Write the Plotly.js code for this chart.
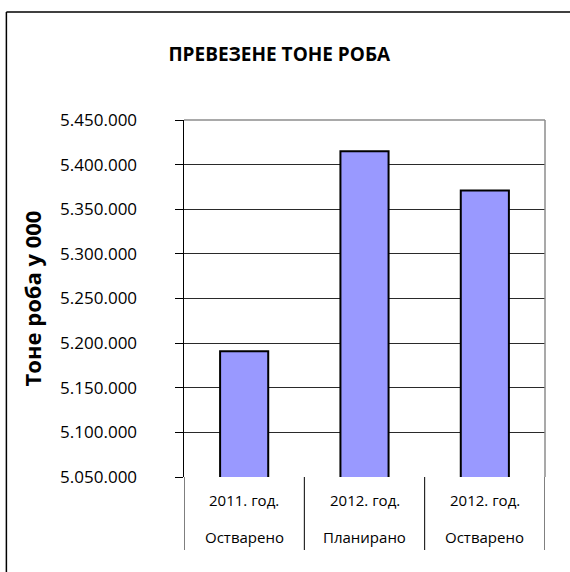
<!DOCTYPE html>
<html>
<head>
<meta charset="utf-8">
<script src="https://cdn.plot.ly/plotly-3.0.1.min.js"></script>
<style>html,body{margin:0;padding:0;background:#fff;}#chart{width:570px;height:572px;}</style>
</head>
<body>
<div id="chart"></div>
<script>
var chartTitle = "ПРЕВЕЗЕНЕ ТОНЕ РОБА";
var yTitle = "Тоне роба у 000";
var yearLabels = ["2011. год.", "2012. год.", "2012. год."];
var statusLabels = ["Остварено", "Планирано", "Остварено"];
var values = [5191000, 5415000, 5371000];
var yTicks = [5050000, 5100000, 5150000, 5200000, 5250000, 5300000, 5350000, 5400000, 5450000];

var idx = values.map(function (v, i) { return i; });

var trace = {
  type: "bar",
  x: idx,
  y: values,
  width: 0.4,
  marker: { color: "#9999FF", line: { color: "#000000", width: 2 } },
  hoverinfo: "skip"
};

var annotations = [];
var shapes = [];
idx.forEach(function (i) {
  annotations.push({ x: i, xref: "x", y: -0.065, yref: "paper", text: yearLabels[i], showarrow: false,
    font: { family: "Open Sans, sans-serif", size: 15, color: "#000" }, xanchor: "center", yanchor: "middle" });
  annotations.push({ x: i, xref: "x", y: -0.168, yref: "paper", text: statusLabels[i], showarrow: false,
    font: { family: "Open Sans, sans-serif", size: 15, color: "#000" }, xanchor: "center", yanchor: "middle" });
});
for (var k = 0; k <= idx.length; k++) {
  shapes.push({ type: "line", xref: "x", yref: "paper", x0: k - 0.5, x1: k - 0.5, y0: 0, y1: -0.2045,
    line: { color: "#000", width: 1 } });
}
// gray top and right plot borders
shapes.push({ type: "line", xref: "paper", yref: "paper", x0: 0, x1: 1, y0: 1, y1: 1, line: { color: "#8c8c8c", width: 1.5 } });
shapes.push({ type: "line", xref: "paper", yref: "paper", x0: 1, x1: 1, y0: 0, y1: 1, line: { color: "#8c8c8c", width: 1.5 } });
// outer chart frame (left and top edges visible)
shapes.push({ type: "line", xref: "paper", yref: "paper", x0: -0.492, x1: -0.492, y0: -0.5, y1: 1.3025,
  line: { color: "#000", width: 1.5 } });
shapes.push({ type: "line", xref: "paper", yref: "paper", x0: -0.492, x1: 1.5, y0: 1.3025, y1: 1.3025,
  line: { color: "#000", width: 1.5 } });

var layout = {
  width: 570,
  height: 572,
  margin: { l: 184, r: 25, t: 120, b: 95 },
  paper_bgcolor: "#ffffff",
  plot_bgcolor: "#ffffff",
  separators: ",.",
  showlegend: false,
  title: { text: "<b>" + chartTitle + "</b>", x: 0.49, xanchor: "center", y: 0.905, yanchor: "middle",
    font: { family: "Open Sans, sans-serif", size: 19, color: "#000" } },
  xaxis: {
    range: [-0.5, 2.5],
    showticklabels: false,
    showgrid: false,
    zeroline: false,
    showline: false,
    ticks: "",
    fixedrange: true
  },
  yaxis: {
    range: [5050000, 5450000],
    tickvals: yTicks,
    tickformat: ",d",
    tickfont: { family: "Open Sans, sans-serif", size: 17, color: "#000" },
    ticks: "outside",
    ticklen: 8,
    tickcolor: "#000",
    tickwidth: 1,
    ticklabelstandoff: 34,
    showgrid: true,
    gridcolor: "#2a2a2a",
    gridwidth: 1,
    showline: true,
    linecolor: "#000",
    linewidth: 1.5,
    zeroline: false,
    title: { text: "<b>" + yTitle + "</b>", standoff: 12,
      font: { family: "Open Sans, sans-serif", size: 22, color: "#000" } },
    fixedrange: true
  },
  bargap: 0.6,
  annotations: annotations,
  shapes: shapes
};

Plotly.newPlot("chart", [trace], layout, { displayModeBar: false, staticPlot: true });
</script>
</body>
</html>
